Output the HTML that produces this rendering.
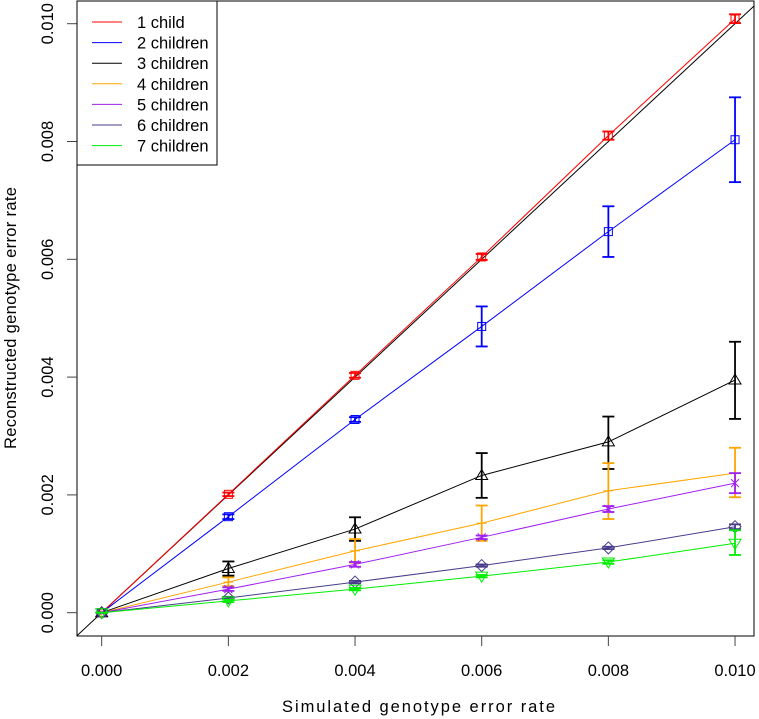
<!DOCTYPE html>
<html><head><meta charset="utf-8"><style>
body{margin:0;background:#fff;}
svg{display:block;font-family:"Liberation Sans",Arial,sans-serif;}
</style></head><body>
<svg id="chart" width="759" height="719" viewBox="0 0 759 719" xmlns="http://www.w3.org/2000/svg"></svg>
<script>
const xValues=[0,0.002,0.004,0.006,0.008,0.010];
const xTickLabels=["0.000","0.002","0.004","0.006","0.008","0.010"];
const yTicks=[0,0.002,0.004,0.006,0.008,0.010];
const yTickLabels=["0.000","0.002","0.004","0.006","0.008","0.010"];
const seriesNames=["1 child","2 children","3 children","4 children","5 children","6 children","7 children"];
const seriesColors=["#ff0000","#0000ff","#000000","#ffa500","#a020f0","#483d8b","#00ee00"];
const seriesSymbols=["square","square","triangle","plus","cross","diamond","tridown"];
const s1=[0,0.00201,0.00403,0.00604,0.00810,0.01008];
const s1lo=[0,0.00198,0.00399,0.00599,0.00803,0.01001];
const s1hi=[0,0.00204,0.00407,0.00609,0.00817,0.01016];
const s2=[0,0.00163,0.00328,0.00486,0.00647,0.00803];
const s2lo=[0,0.00159,0.00324,0.00452,0.00604,0.00731];
const s2hi=[0,0.00167,0.00332,0.00520,0.00690,0.00875];
const s3=[0,0.00075,0.00142,0.00233,0.00290,0.00395];
const s3lo=[0,0.00063,0.00122,0.00195,0.00244,0.00329];
const s3hi=[0,0.00087,0.00162,0.00271,0.00333,0.00460];
const s4=[0,0.00052,0.00105,0.00152,0.00207,0.00237];
const s4lo=[0,0.00045,0.00085,0.00122,0.00159,0.00196];
const s4hi=[0,0.00060,0.00125,0.00182,0.00254,0.00280];
const s5=[0,0.00040,0.00082,0.00128,0.00176,0.00220];
const s5lo=[0,0.00037,0.00078,0.00125,0.00171,0.00203];
const s5hi=[0,0.00043,0.00086,0.00131,0.00181,0.00237];
const s6=[0,0.00025,0.00052,0.00080,0.00110,0.00146];
const s6lo=[0,0.00023,0.00050,0.00078,0.00108,0.00142];
const s6hi=[0,0.00027,0.00054,0.00082,0.00112,0.00150];
const s7=[0,0.00020,0.00040,0.00062,0.00086,0.00118];
const s7lo=[0,0.00018,0.00038,0.00060,0.00083,0.00098];
const s7hi=[0,0.00022,0.00042,0.00064,0.00089,0.00140];
const allSeries=[s1,s2,s3,s4,s5,s6,s7];
const allLo=[s1lo,s2lo,s3lo,s4lo,s5lo,s6lo,s7lo];
const allHi=[s1hi,s2hi,s3hi,s4hi,s5hi,s6hi,s7hi];

const NS="http://www.w3.org/2000/svg";
const svg=document.getElementById('chart');
const L=77,R=754,T=1,B=636;
function xs(v){return 101.7+v*63333;}
function ys(v){return 612.7-v*58900;}
function mk(tag,attrs,parent){const e=document.createElementNS(NS,tag);for(const k in attrs)e.setAttribute(k,attrs[k]);(parent||svg).appendChild(e);return e;}

const defs=mk('defs',{});
const cp=mk('clipPath',{id:'clip'},defs);
mk('rect',{x:L,y:T,width:R-L,height:B-T},cp);

const gData=mk('g',{'clip-path':'url(#clip)'});


const idl=mk('line',{x1:xs(-0.001),y1:ys(-0.001),x2:xs(0.011),y2:ys(0.011),stroke:'#000','stroke-width':1},gData);



function symbol(g,type,cx,cy,col){
  const a={fill:'none',stroke:col,'stroke-width':1};
  const r=5;
  if(type==='square')mk('rect',Object.assign({x:cx-r+1,y:cy-r+1,width:2*r-2,height:2*r-2},a),g);
  else if(type==='triangle')mk('polygon',Object.assign({points:`${cx},${cy-6} ${cx-6},${cy+4} ${cx+6},${cy+4}`},a),g);
  else if(type==='tridown')mk('polygon',Object.assign({points:`${cx},${cy+6} ${cx-6},${cy-4} ${cx+6},${cy-4}`},a),g);
  else if(type==='diamond')mk('polygon',Object.assign({points:`${cx},${cy-6} ${cx+6},${cy} ${cx},${cy+6} ${cx-6},${cy}`},a),g);
  else if(type==='plus'){mk('line',Object.assign({x1:cx-5,y1:cy,x2:cx+5,y2:cy},a),g);mk('line',Object.assign({x1:cx,y1:cy-5,x2:cx,y2:cy+5},a),g);}
  else if(type==='cross'){mk('line',Object.assign({x1:cx-4,y1:cy-4,x2:cx+4,y2:cy+4},a),g);mk('line',Object.assign({x1:cx-4,y1:cy+4,x2:cx+4,y2:cy-4},a),g);}
}

for(let s=0;s<allSeries.length;s++){
  const col=seriesColors[s];
  const g=mk('g',{},gData);
  
  
  const pts=xValues.map((x,i)=>xs(x)+','+ys(allSeries[s][i])).join(' ');
  const pl=mk('polyline',{points:pts,fill:'none',stroke:col,'stroke-width':1},g);
  
  
  for(let i=0;i<xValues.length;i++){
    const cx=xs(xValues[i]),cy=ys(allSeries[s][i]);
    const lo=ys(allLo[s][i]),hi=ys(allHi[s][i]);
    const eb=mk('g',{stroke:col,'stroke-width':1.8},g);
    
    
    mk('line',{x1:cx,y1:lo,x2:cx,y2:hi},eb);
    mk('line',{x1:cx-6,y1:lo,x2:cx+6,y2:lo},eb);
    mk('line',{x1:cx-6,y1:hi,x2:cx+6,y2:hi},eb);
    const pg=mk('g',{},g);
    
    
    symbol(pg,seriesSymbols[s],cx,cy,col);
  }
}

const box=mk('rect',{x:L,y:T,width:R-L,height:B-T,fill:'none',stroke:'#000','stroke-width':1});



const gx=mk('g',{});


xValues.forEach((v,i)=>{
  const x=xs(v);
  mk('line',{x1:x,y1:B,x2:x,y2:B+10,stroke:'#444'},gx);
  const t=mk('text',{x:x,y:676,'text-anchor':'middle','font-size':16.5,fill:'#000'},gx);
  t.textContent=xTickLabels[i];
  
  
});
const xt=mk('text',{x:282,y:712,'font-size':16.5,fill:'#000',textLength:273,lengthAdjust:'spacing'});
xt.textContent='Simulated genotype error rate';



const gy=mk('g',{});


yTicks.forEach((v,i)=>{
  const y=ys(v);
  mk('line',{x1:L-10,y1:y,x2:L,y2:y,stroke:'#444'},gy);
  const t=mk('text',{x:0,y:0,'text-anchor':'middle','font-size':16.5,fill:'#000',transform:`translate(53,${y}) rotate(-90)`},gy);
  t.textContent=yTickLabels[i];
  
  
});
const yt=mk('text',{x:0,y:0,'font-size':16.5,fill:'#000',textLength:262,lengthAdjust:'spacing',transform:'translate(16,449) rotate(-90)'});
yt.textContent='Reconstructed genotype error rate';



const lg=mk('g',{});


mk('rect',{x:L,y:T,width:140,height:164,fill:'#fff',stroke:'#000'},lg);
seriesNames.forEach((n,i)=>{
  const y=22+i*20.6;
  const e=mk('g',{},lg);
  
  
  mk('line',{x1:92,y1:y,x2:122,y2:y,stroke:seriesColors[i],'stroke-width':1},e);
  const t=mk('text',{x:137,y:y+6,'font-size':16.5,fill:'#000'},e);
  t.textContent=n;
});
</script>
</body></html>
